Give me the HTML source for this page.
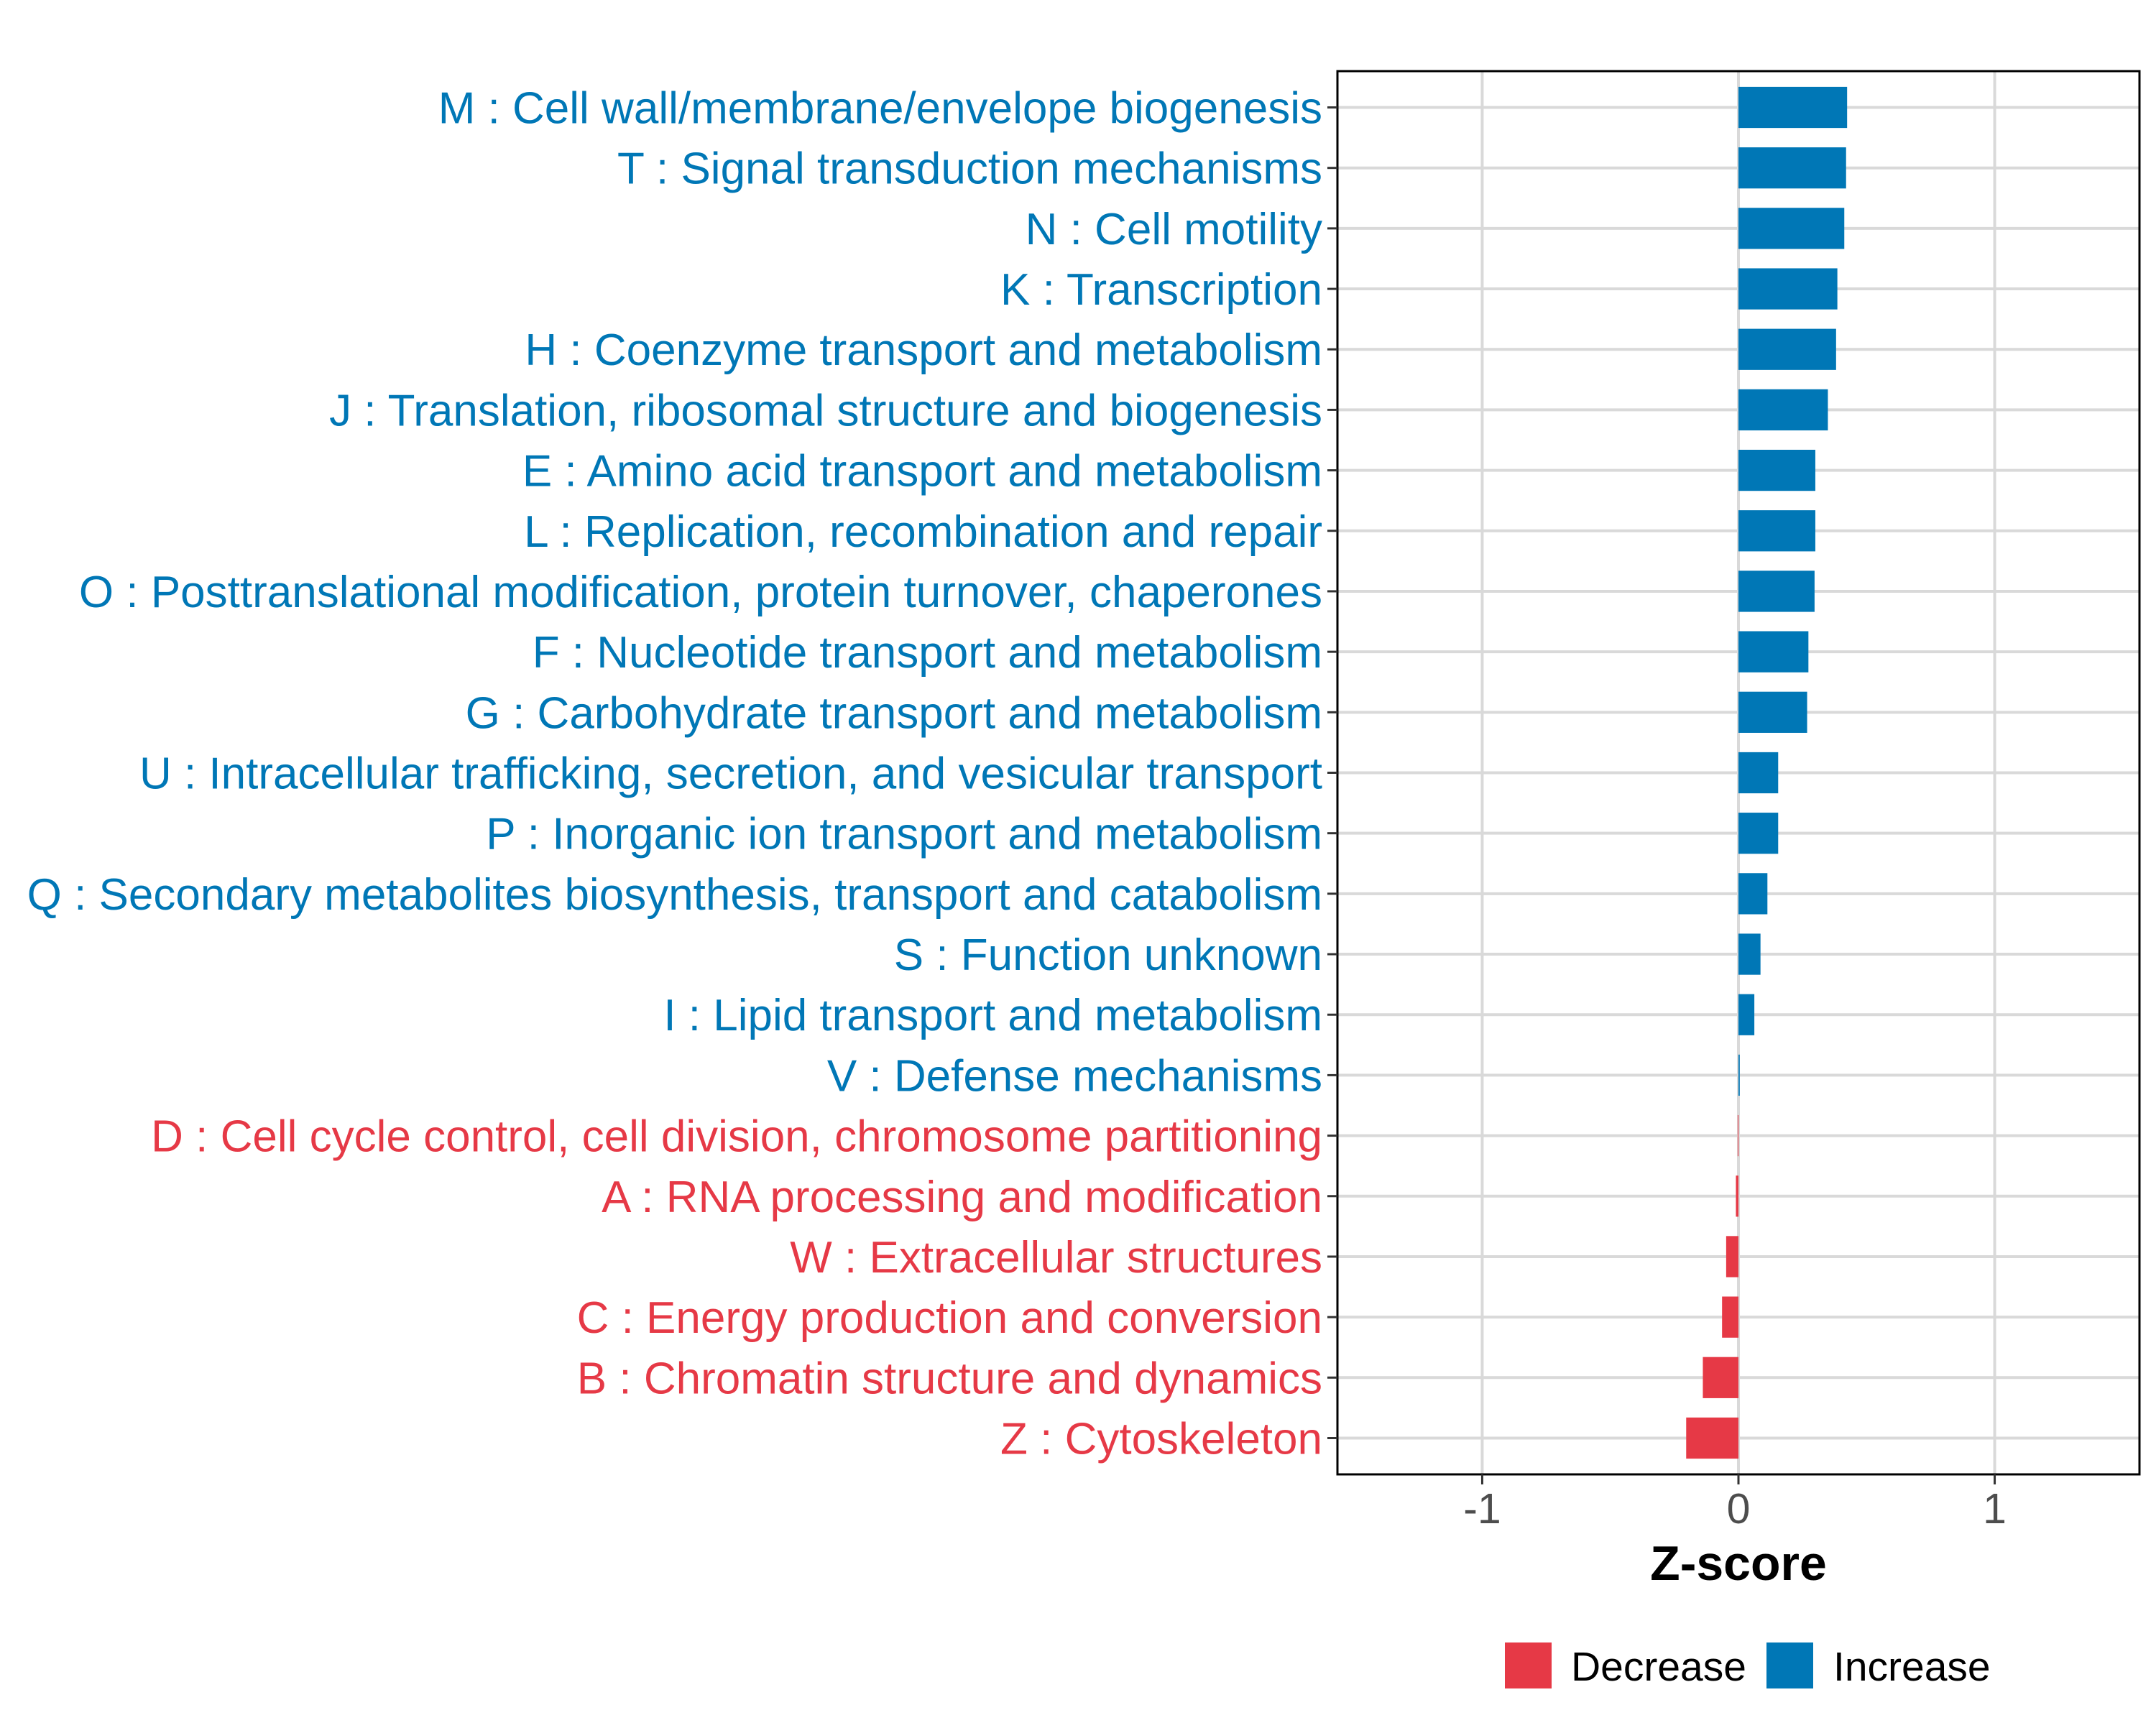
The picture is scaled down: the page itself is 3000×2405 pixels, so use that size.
<!DOCTYPE html>
<html><head><meta charset="utf-8"><style>
html,body{margin:0;padding:0;background:#fff}
svg text{font-family:"Liberation Sans",Arial,sans-serif}
</style></head><body>
<svg id="chart" width="3000" height="2400" viewBox="0 0 3000 2400" xmlns="http://www.w3.org/2000/svg">
<rect width="3000" height="2400" fill="#fff"/>
<g id="grid"></g>
<g id="bars"></g>
<rect id="frame" fill="none" stroke="#000" stroke-width="3"/>
<g id="ylabels"></g>
<g id="xaxis"></g>
<text x="2419" y="2199" text-anchor="middle" font-size="68" font-weight="bold" fill="#000">Z-score</text>
<g>
<rect x="2094" y="2286" width="65" height="64" fill="#E63946"/>
<text x="2186" y="2339" font-size="57" fill="#000">Decrease</text>
<rect x="2458" y="2286" width="65" height="64" fill="#0077B6"/>
<text x="2551" y="2339" font-size="57" fill="#000">Increase</text>
</g>
</svg>
<script>
const categories = ["M : Cell wall/membrane/envelope biogenesis","T : Signal transduction mechanisms","N : Cell motility","K : Transcription","H : Coenzyme transport and metabolism","J : Translation, ribosomal structure and biogenesis","E : Amino acid transport and metabolism","L : Replication, recombination and repair","O : Posttranslational modification, protein turnover, chaperones","F : Nucleotide transport and metabolism","G : Carbohydrate transport and metabolism","U : Intracellular trafficking, secretion, and vesicular transport","P : Inorganic ion transport and metabolism","Q : Secondary metabolites biosynthesis, transport and catabolism","S : Function unknown","I : Lipid transport and metabolism","V : Defense mechanisms","D : Cell cycle control, cell division, chromosome partitioning","A : RNA processing and modification","W : Extracellular structures","C : Energy production and conversion","B : Chromatin structure and dynamics","Z : Cytoskeleton"];
const zscores = [0.424,0.420,0.413,0.386,0.381,0.349,0.300,0.300,0.297,0.273,0.268,0.155,0.155,0.113,0.086,0.062,0.005,-0.003,-0.01,-0.048,-0.064,-0.139,-0.204];
const xTicks = [-1,0,1];
const xTickLabels = ["-1","0","1"];

const NS="http://www.w3.org/2000/svg";
const L=1861,R=2977,T=99,B=2052,xmin=-1.565,xmax=1.565;
const xs=v=>L+(v-xmin)/(xmax-xmin)*(R-L);
const n=categories.length;
const pad=0.6;
const step=(B-T)/(n-1+2*pad);
const ys=i=>T+step*pad+i*step;
function el(tag,attrs,parent){const e=document.createElementNS(NS,tag);for(const k in attrs)e.setAttribute(k,attrs[k]);parent.appendChild(e);return e;}
const grid=document.getElementById('grid'),bars=document.getElementById('bars'),yl=document.getElementById('ylabels'),xa=document.getElementById('xaxis');
const fr=document.getElementById('frame');
fr.setAttribute('x',L);fr.setAttribute('y',T);fr.setAttribute('width',R-L);fr.setAttribute('height',B-T);
xTicks.forEach((t,i)=>{
  const g=el('line',{x1:xs(t),x2:xs(t),y1:T,y2:B,stroke:'#d9d9d9','stroke-width':4},grid);
  
  
  const tk=el('line',{x1:xs(t),x2:xs(t),y1:B,y2:B+14,stroke:'#333','stroke-width':3},xa);
  
  
  const tl=el('text',{x:xs(t),y:2120,'text-anchor':'middle','font-size':59,fill:'#4d4d4d'},xa);
  tl.textContent=xTickLabels[i];
  
  
});
categories.forEach((c,i)=>{
  const y=ys(i);
  const g=el('line',{x1:L,x2:R,y1:y,y2:y,stroke:'#d9d9d9','stroke-width':4},grid);
  
  
  const v=zscores[i],col=v>=0?'#0077B6':'#E63946';
  const h=step*0.68;
  const x0=xs(0),x1=xs(v);
  const b=el('rect',{x:Math.min(x0,x1),y:y-h/2,width:Math.max(Math.abs(x1-x0),1),height:h,fill:col},bars);
  
  
  const tk=el('line',{x1:L-14,x2:L,y1:y,y2:y,stroke:'#333','stroke-width':3},yl);
  
  
  const t=el('text',{x:L-21,y:y+22,'text-anchor':'end','font-size':62,fill:col},yl);
  t.textContent=c;
  
  
});
</script>
</body></html>
